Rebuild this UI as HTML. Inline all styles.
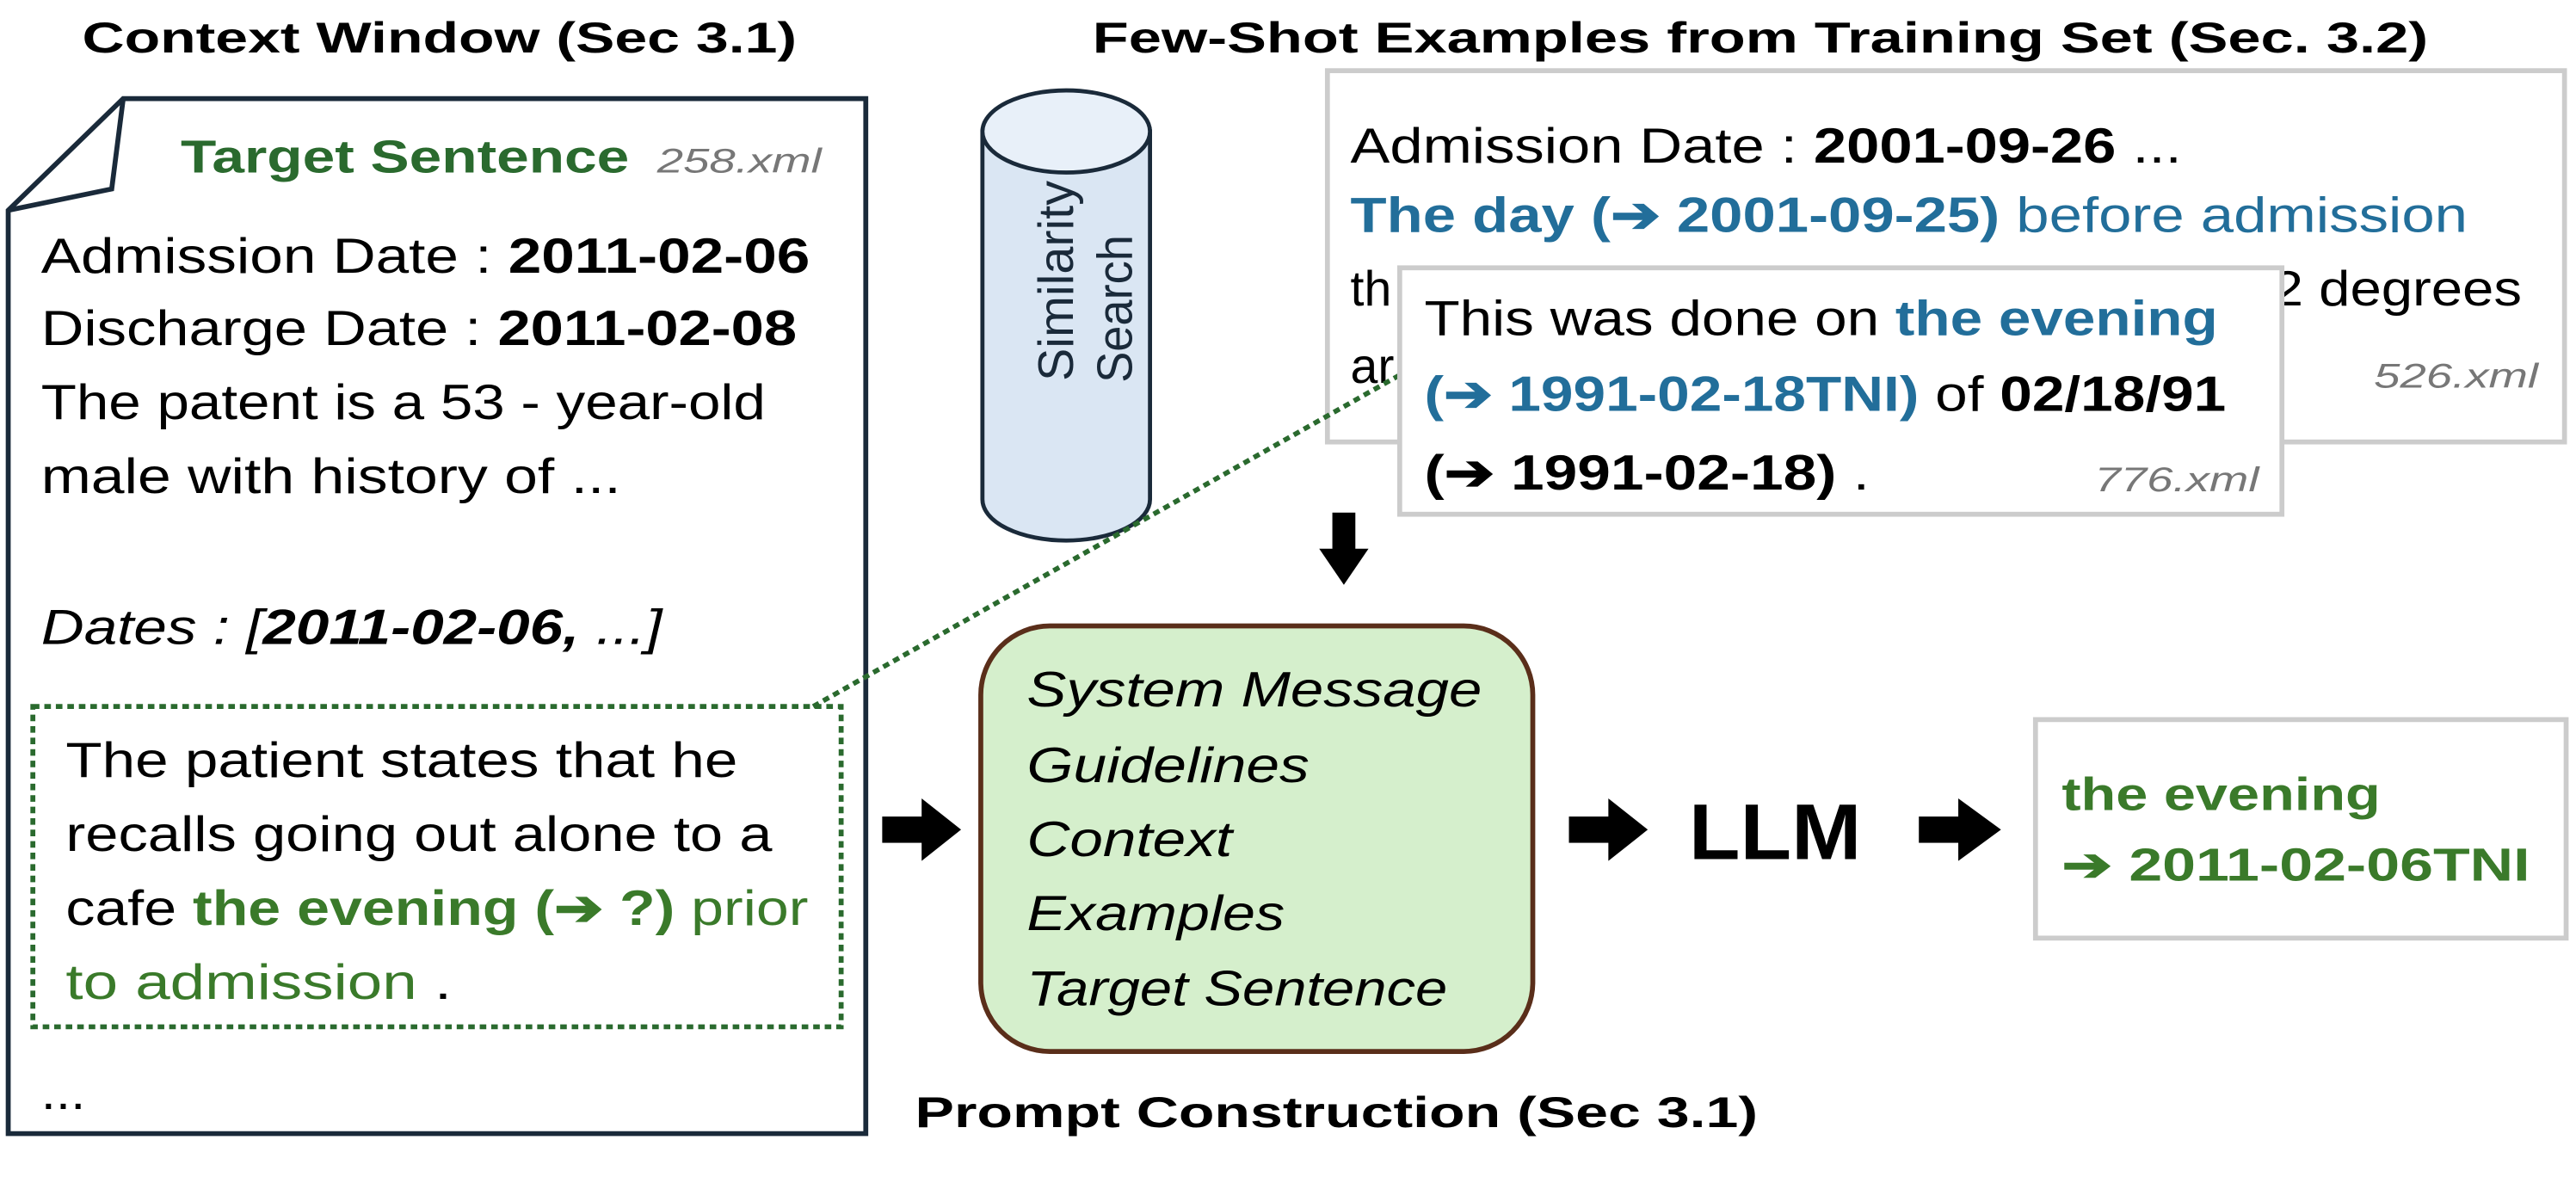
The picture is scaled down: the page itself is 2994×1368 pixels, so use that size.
<!DOCTYPE html>
<html><head><meta charset="utf-8"><style>
html,body{margin:0;padding:0;background:#fff;}
svg{display:block;}
text{font-family:"Liberation Sans",sans-serif;}
</style></head><body>
<svg width="2994" height="1368" viewBox="0 0 1568 716.4" xmlns="http://www.w3.org/2000/svg">
<!-- titles -->
<text x="50" y="32" font-size="26" font-weight="bold" textLength="435" lengthAdjust="spacingAndGlyphs">Context Window (Sec 3.1)</text>
<text x="665" y="32" font-size="26" font-weight="bold" textLength="813" lengthAdjust="spacingAndGlyphs">Few-Shot Examples from Training Set (Sec. 3.2)</text>

<!-- document -->
<path d="M75,60 L527,60 L527,690 L5,690 L5,128 Z" fill="#fff" stroke="#1a2a3a" stroke-width="3"/>
<path d="M75,60 L68,115 L5,128" fill="none" stroke="#1a2a3a" stroke-width="3"/>
<text x="110" y="105" font-size="28" font-weight="bold" fill="#2a6a2e" textLength="273" lengthAdjust="spacingAndGlyphs">Target Sentence</text>
<text x="400" y="105" font-size="21" font-style="italic" fill="#777" textLength="100" lengthAdjust="spacingAndGlyphs">258.xml</text>
<g font-size="30">
<text x="25" y="166" textLength="468" lengthAdjust="spacingAndGlyphs">Admission Date : <tspan font-weight="bold">2011-02-06</tspan></text>
<text x="25" y="210" textLength="460" lengthAdjust="spacingAndGlyphs">Discharge Date : <tspan font-weight="bold">2011-02-08</tspan></text>
<text x="25" y="255" textLength="441" lengthAdjust="spacingAndGlyphs">The patent is a 53 - year-old</text>
<text x="25" y="300" textLength="353" lengthAdjust="spacingAndGlyphs">male with history of ...</text>
<text x="25" y="392" font-style="italic" textLength="378" lengthAdjust="spacingAndGlyphs">Dates : [<tspan font-weight="bold">2011-02-06,</tspan> ...]</text>
<text x="40" y="473" textLength="409" lengthAdjust="spacingAndGlyphs">The patient states that he</text>
<text x="40" y="518" textLength="430" lengthAdjust="spacingAndGlyphs">recalls going out alone to a</text>
<text x="40" y="563" textLength="452" lengthAdjust="spacingAndGlyphs">cafe <tspan fill="#3a7a2a" font-weight="bold">the evening (➔ ?)</tspan><tspan fill="#3a7a2a"> prior</tspan></text>
<text x="40" y="608" textLength="235" lengthAdjust="spacingAndGlyphs"><tspan fill="#3a7a2a">to admission</tspan> .</text>
<text x="25" y="675" textLength="27" lengthAdjust="spacingAndGlyphs">...</text>
</g>
<rect x="20" y="430" width="492" height="195" fill="none" stroke="#2a6a2e" stroke-width="3" stroke-dasharray="4 3"/>

<!-- cylinder -->
<path d="M598,80 L598,304 A51,25 0 0 0 700,304 L700,80 Z" fill="#dae6f3" stroke="#1a2a3a" stroke-width="2.5"/>
<ellipse cx="649" cy="80" rx="51" ry="25" fill="#e8f0f9" stroke="#1a2a3a" stroke-width="2.5"/>
<text transform="translate(653,171) rotate(-90)" text-anchor="middle" font-size="30" fill="#1a2a3a" textLength="122" lengthAdjust="spacingAndGlyphs">Similarity</text>
<text transform="translate(689,188) rotate(-90)" text-anchor="middle" font-size="30" fill="#1a2a3a" textLength="90" lengthAdjust="spacingAndGlyphs">Search</text>

<!-- box 526 -->
<rect x="808" y="43" width="753" height="226" fill="#fff" stroke="#cccccc" stroke-width="3"/>
<g font-size="30">
<text x="822" y="99" textLength="506" lengthAdjust="spacingAndGlyphs">Admission Date : <tspan font-weight="bold">2001-09-26</tspan> ...</text>
<text x="822" y="141" fill="#226e9a" textLength="680" lengthAdjust="spacingAndGlyphs"><tspan font-weight="bold">The day (➔ 2001-09-25)</tspan> before admission</text>
<text x="822" y="186">th</text>
<text x="1383" y="186" textLength="152" lengthAdjust="spacingAndGlyphs">2 degrees</text>
<text x="822" y="233">ar</text>
</g>
<text x="1445" y="236" font-size="21" font-style="italic" fill="#777" textLength="100" lengthAdjust="spacingAndGlyphs">526.xml</text>

<!-- dotted connector -->
<line x1="495" y1="430" x2="856" y2="226" stroke="#2a6a2e" stroke-width="3" stroke-dasharray="4 3"/>

<!-- box 776 -->
<rect x="852" y="163" width="537" height="150" fill="#fff" stroke="#cccccc" stroke-width="3"/>
<g font-size="30">
<text x="867" y="204" textLength="483" lengthAdjust="spacingAndGlyphs">This was done on <tspan fill="#226e9a" font-weight="bold">the evening</tspan></text>
<text x="867" y="250" textLength="488" lengthAdjust="spacingAndGlyphs"><tspan fill="#226e9a" font-weight="bold">(➔ 1991-02-18TNI)</tspan> of <tspan font-weight="bold">02/18/91</tspan></text>
<text x="867" y="298" textLength="271" lengthAdjust="spacingAndGlyphs"><tspan font-weight="bold">(➔ 1991-02-18)</tspan> .</text>
</g>
<text x="1275" y="299" font-size="21" font-style="italic" fill="#777" textLength="100" lengthAdjust="spacingAndGlyphs">776.xml</text>

<!-- down arrow -->
<rect x="811" y="312" width="14" height="24" fill="#000"/>
<polygon points="803,334 833,334 818,356" fill="#000"/>

<!-- prompt box -->
<rect x="597" y="381" width="336" height="259" rx="42" ry="42" fill="#d5efcc" stroke="#5a2e1a" stroke-width="3"/>
<g font-size="30" font-style="italic">
<text x="625" y="430" textLength="277" lengthAdjust="spacingAndGlyphs">System  Message</text>
<text x="625" y="476" textLength="172" lengthAdjust="spacingAndGlyphs">Guidelines</text>
<text x="625" y="521" textLength="125" lengthAdjust="spacingAndGlyphs">Context</text>
<text x="625" y="566" textLength="157" lengthAdjust="spacingAndGlyphs">Examples</text>
<text x="625" y="612" textLength="256" lengthAdjust="spacingAndGlyphs">Target Sentence</text>
</g>
<text x="557" y="686" font-size="26" font-weight="bold" textLength="513" lengthAdjust="spacingAndGlyphs">Prompt Construction (Sec 3.1)</text>

<!-- right arrows -->
<g fill="#000">
<rect x="537" y="497" width="26" height="16"/><polygon points="561,486 585,505 561,524"/>
<rect x="955" y="497" width="26" height="16"/><polygon points="979,486 1003,505 979,524"/>
<rect x="1168" y="497" width="26" height="16"/><polygon points="1192,486 1218,505 1192,524"/>
</g>
<text x="1028" y="523" font-size="48" font-weight="bold" textLength="105" lengthAdjust="spacingAndGlyphs">LLM</text>

<!-- output -->
<rect x="1239" y="438" width="323" height="133" fill="#fff" stroke="#cccccc" stroke-width="3"/>
<text x="1255" y="493" font-size="28" font-weight="bold" fill="#3a7a2a" textLength="194" lengthAdjust="spacingAndGlyphs">the evening</text>
<text x="1255" y="536" font-size="28" font-weight="bold" fill="#3a7a2a" textLength="285" lengthAdjust="spacingAndGlyphs">➔ 2011-02-06TNI</text>
</svg>
</body></html>
